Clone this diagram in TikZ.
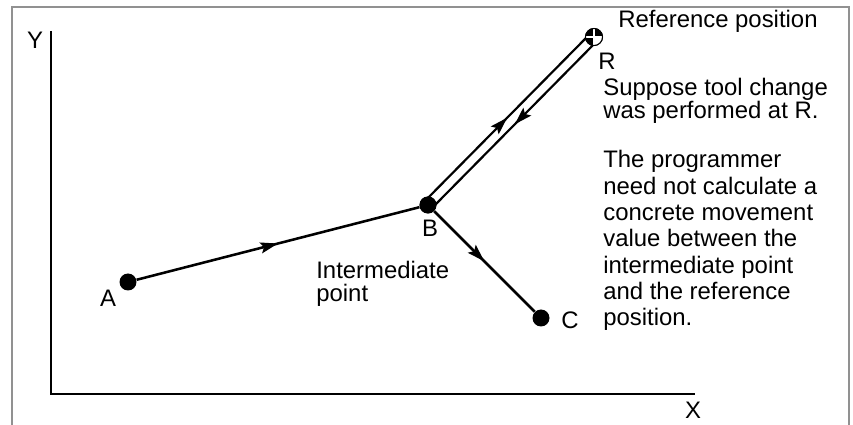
\documentclass[tikz,border=0pt]{standalone}
\usepackage{fontspec}
\setmainfont{Liberation Sans}
\usepackage{xcolor}
\usepackage{tikz}
\usetikzlibrary{
	arrows.meta,
	calc,
	decorations.markings,
	positioning
}
\definecolor{FrameGray}{RGB}{145,145,145}

\tikzset{
	dot/.style={circle, fill=black, inner sep=0pt, minimum size=0.34cm},
	refmark/.style={circle, fill=black, draw=black, line width=0.6pt, inner sep=0pt, minimum size=0.34cm,
		path picture={
			\fill[white] (path picture bounding box.center) rectangle (path picture bounding box.south east);
			\draw[white, line width=0.7pt] (path picture bounding box.north) -- (path picture bounding box.south)
				(path picture bounding box.west) -- (path picture bounding box.east);
		}},
	lbl/.style={inner sep=0pt, font=\fontsize{13.6}{15}\selectfont},
	note/.style={inner sep=0pt, anchor=base west},
	block/.style={inner sep=0pt, anchor=north west, align=left},
	track/.style={line width=1.45pt},
	midarrow/.style={postaction={decorate}, decoration={markings,
		mark=at position 0.5 with {\arrow{Stealth[length=10pt, width=6.2pt, inset=1.8pt]}}}}
}

\begin{document}
\begin{tikzpicture}[x=0.02cm, y=-0.02cm]
		\useasboundingbox (0,0) rectangle (853,425);
		\draw[FrameGray, line width=1.1pt] (12,425) |- (849,7) -- (849,425);
		\coordinate (yend) at (51,31);
		\coordinate (origin) at (51,394);
		\coordinate (xend) at (695,394);
		\draw[line width=0.9pt] (yend) -- (origin) -- (xend);
		\node[lbl] (ylab) at (35,40) {Y};
		\node[lbl] (xlab) at (693,410) {X};
		\node[dot] (A) at (128,282) {};
		\node[dot] (B) at (428,205) {};
		\node[dot] (C) at (541,318) {};
		\node[refmark] (R) at (594,37) {};
		\draw[track, midarrow] (A) -- (B);
		\draw[track, midarrow] (B) -- (C);
		\draw[line width=1.25pt, midarrow] ($(B)!0.1cm!90:(R)$) -- ($(R)!0.1cm!-90:(B)$);
		\draw[line width=1.25pt, midarrow] ($(R)!0.1cm!90:(B)$) -- ($(B)!0.1cm!-90:(R)$);
		\node[dot] at (B) {};
		\node[refmark] at (R) {};
		\node[lbl] (labA) at (108,298) {A};
		\node[lbl] (labB) at (430,228) {B};
		\node[lbl] (labC) at (570,320) {C};
		\node[lbl, note] (labR) at (598,70) {R};
		\node[lbl, note] (refpos) at (618,28) {Reference position};
		\node[lbl, block, font=\fontsize{13.6}{13.2}\selectfont] (inter) at (316,261) {Intermediate\\point};
		\node[lbl, block, font=\fontsize{13.6}{13.2}\selectfont] (suppose) at (603,78) {Suppose tool change\\was performed at R.};
		\node[lbl, block] (remark) at (603,150) {The programmer\\need not calculate a\\concrete movement\\value between the\\intermediate point\\and the reference\\position.};
	\end{tikzpicture}
\end{document}
